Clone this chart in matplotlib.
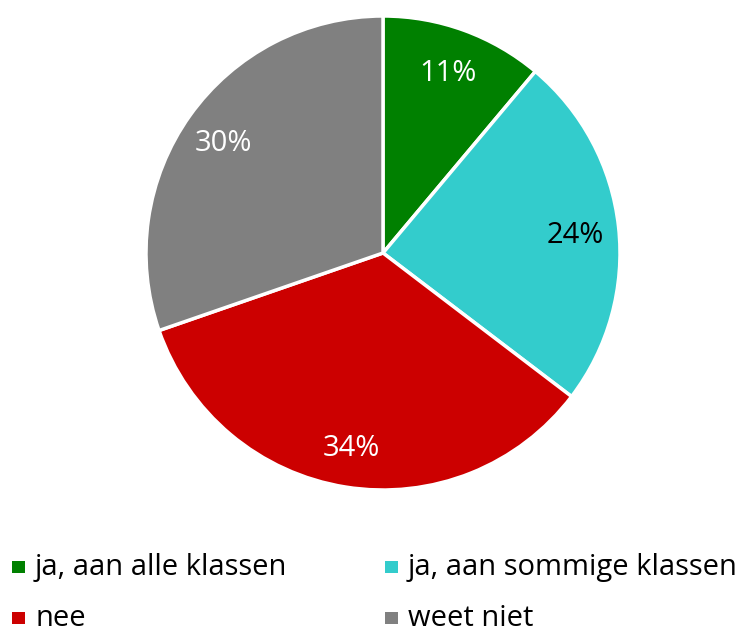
import matplotlib
matplotlib.use("Agg")
import matplotlib.pyplot as plt
from matplotlib.patches import Rectangle

plt.rcParams['font.family'] = ['Open Sans', 'DejaVu Sans']

categories = ["ja, aan alle klassen", "ja, aan sommige klassen", "nee", "weet niet"]
values = [11, 24, 34, 30]
colors = ["#008000", "#33CCCC", "#CC0000", "#808080"]
label_colors = ["white", "black", "white", "white"]

W, H = 739, 633
fig = plt.figure(figsize=(W / 100, H / 100), dpi=100)

cx, cy, r = 383, 253, 237
ax = fig.add_axes([(cx - r) / W, 1 - (cy + r) / H, 2 * r / W, 2 * r / H])
wedges, texts, autotexts = ax.pie(
    values, colors=colors, startangle=90, counterclock=False,
    autopct=lambda p: f"{p:.0f}%", pctdistance=0.82,
    wedgeprops=dict(edgecolor="white", linewidth=2.5),
    textprops=dict(fontsize=21),
)
for t, c in zip(autotexts, label_colors):
    t.set_color(c)
    x, y = t.get_position()
    t.set_position((x - 0.005, y - 0.015))
ax.set_aspect("equal")
ax.set_xlim(-1, 1)
ax.set_ylim(-1, 1)

# Legend in two columns at the bottom
col_x = [12, 385]
row_y = [567, 618]
for i, (cat, col) in enumerate(zip(categories, colors)):
    x = col_x[i % 2]
    y = row_y[i // 2]
    fig.patches.append(Rectangle((x / W, 1 - (y + 6) / H), 13 / W, 12 / H,
                                 transform=fig.transFigure, facecolor=col,
                                 edgecolor="none"))
    fig.text((x + 23) / W, 1 - (y + 8.5) / H, cat, fontsize=21, va="baseline",
             ha="left", color="black")

fig.savefig("out.png", dpi=100)
